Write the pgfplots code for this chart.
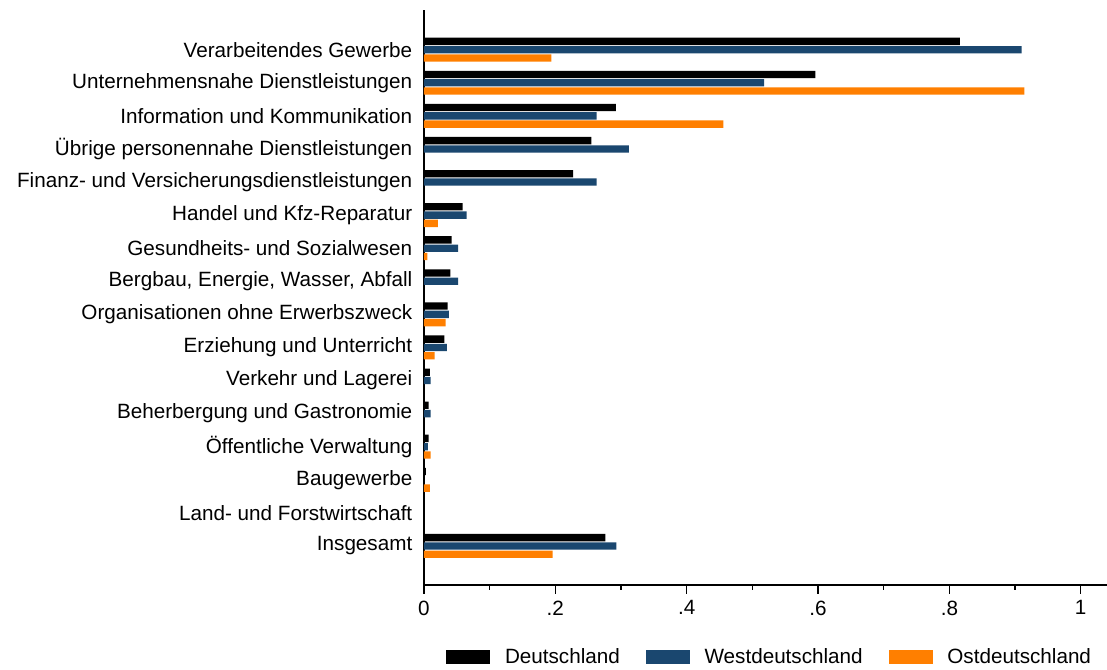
\documentclass[border=0pt]{standalone}
\usepackage{fontspec}
\setmainfont{Liberation Sans}
\usepackage{pgfplots}
\pgfplotsset{compat=1.18}
\definecolor{dblue}{RGB}{26,71,111}
\definecolor{dorange}{RGB}{255,127,0}
\begin{document}
\begin{tikzpicture}
\begin{axis}[
  scale only axis, width=512.25pt, height=431.25pt,
  xmin=0, xmax=1.04, ymin=-1.18, ymax=16.2,
  axis x line=bottom, axis y line=left,
  axis line style={-, line width=1pt},
  xbar, bar width=5.5pt,
  xtick={0,0.2,0.4,0.6,0.8,1}, xticklabels={0,.2,.4,.6,.8,1},
  minor xtick={0.1,0.3,0.5,0.7,0.9},
  tick align=outside, major tick length=6.75pt, minor tick length=3.75pt,
  xtick style={line width=0.9pt, black},
  minor tick style={line width=0.9pt, black},
  ytick={0,...,15},
  yticklabels={Insgesamt, Land- und Forstwirtschaft, Baugewerbe, Öffentliche Verwaltung, Beherbergung und Gastronomie, Verkehr und Lagerei, Erziehung und Unterricht, Organisationen ohne Erwerbszweck, {Bergbau, Energie, Wasser, Abfall}, Gesundheits- und Sozialwesen, Handel und Kfz-Reparatur, Finanz- und Versicherungsdienstleistungen, Übrige personennahe Dienstleistungen, Information und Kommunikation, Unternehmensnahe Dienstleistungen, Verarbeitendes Gewerbe},
  ytick style={draw=none},
  tick label style={font=\fontsize{15.5}{18}\selectfont},
  yticklabel style={xshift=1.5pt},
  xticklabel style={yshift=-1.5pt},
  /pgf/number format/assume math mode=true,
  legend image code/.code={\fill[#1] (0pt,-5.25pt) rectangle (33pt,5.25pt);},
  legend style={at={(0.5066,-0.1252)}, anchor=center, draw=none, legend columns=3,
    font=\fontsize{15.5}{18}\selectfont,
    /tikz/every odd column/.append style={column sep=9pt},
    /tikz/every even column/.append style={column sep=17.5pt}},
  legend cell align=left,
]
\addplot[fill=black, draw=none, bar shift=6.225pt] table {
x y
0.816 15
0.596 14
0.292 13
0.255 12
0.227 11
0.059 10
0.042 9
0.040 8
0.036 7
0.031 6
0.009 5
0.007 4
0.007 3
0.003 2
0.276 0
};
\addplot[fill=dblue, draw=none, bar shift=0pt] table {
x y
0.910 15
0.518 14
0.263 13
0.312 12
0.263 11
0.065 10
0.052 9
0.052 8
0.038 7
0.035 6
0.010 5
0.010 4
0.006 3
0.293 0
};
\addplot[fill=dorange, draw=none, bar shift=-6.225pt] table {
x y
0.194 15
0.914 14
0.456 13
0.021 10
0.005 9
0.033 7
0.016 6
0.010 3
0.009 2
0.196 0
};
\legend{Deutschland, Westdeutschland, Ostdeutschland}
\end{axis}
\pgfresetboundingbox
\path[use as bounding box] ([xshift=-318pt,yshift=-63.75pt]current axis.south west) rectangle ([yshift=7.5pt]current axis.north east);
\end{tikzpicture}
\end{document}
